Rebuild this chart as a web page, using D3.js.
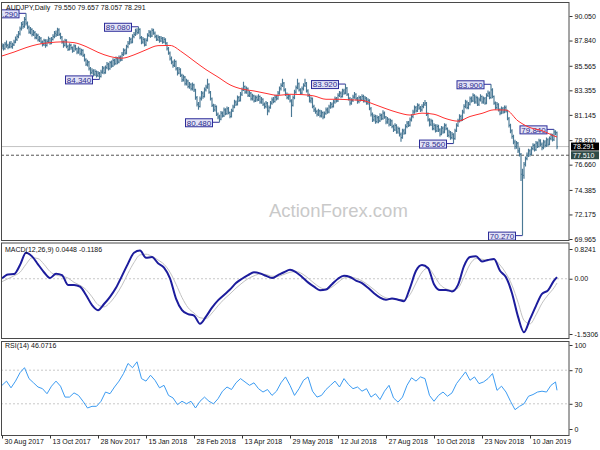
<!DOCTYPE html>
<html><head><meta charset="utf-8">
<script src="https://cdn.jsdelivr.net/npm/d3@7"></script>
<style>
body{margin:0;background:#fff}
svg{display:block}
text{font-family:"Liberation Sans",Arial,sans-serif}
</style></head>
<body><svg id="c" width="600" height="450"></svg>
<script>
// ---------------- DATA ----------------
const symbolTitle = "AUDJPY,Daily  79.550 79.657 78.057 78.291";
const macdTitle = "MACD(12,26,9) 0.0448 -0.1186";
const rsiTitle = "RSI(14) 46.0716";
const firstOpen = 87.20;

const closes = [
87.35,87.10,87.52,87.40,87.25,87.60,87.30,87.45,87.70,87.95,
88.20,88.45,88.90,89.30,89.10,89.75,89.40,89.05,88.60,88.85,
88.40,88.55,88.10,88.30,87.90,88.05,87.70,87.50,87.85,87.40,
87.75,88.00,87.60,87.95,88.20,88.50,88.35,88.80,88.40,88.15,
87.70,87.40,87.85,87.30,87.05,87.40,87.20,86.90,87.35,87.10,
86.80,87.10,86.65,86.95,86.50,86.10,85.70,85.90,85.30,84.95,
85.10,84.80,85.05,84.70,84.90,84.60,85.00,85.35,84.95,85.40,
85.70,85.30,85.85,85.55,86.05,85.75,86.20,85.90,86.30,86.10,
86.60,86.95,86.70,87.30,87.60,87.95,87.70,88.20,88.40,88.70,
88.55,88.85,88.10,87.70,87.95,87.45,87.85,88.30,88.60,88.25,
88.75,88.50,88.20,87.95,88.15,87.80,88.05,87.70,87.95,87.60,
87.10,86.70,86.20,85.90,85.60,85.95,85.30,84.90,85.25,84.70,
84.30,84.55,83.95,84.20,83.70,83.90,83.50,83.85,83.40,82.70,
82.10,81.90,82.60,83.10,82.80,83.40,83.65,83.90,83.20,82.60,
82.00,81.60,81.90,81.20,80.95,80.75,81.30,81.05,81.60,81.25,
81.70,81.35,81.00,81.50,81.85,82.30,82.10,82.70,82.45,83.00,
83.40,83.70,83.20,83.50,82.90,83.10,82.60,82.85,82.40,82.70,
82.50,82.80,82.30,82.55,82.10,81.90,82.20,81.50,81.80,82.20,
82.50,82.35,82.75,82.60,83.10,83.50,83.80,84.00,83.40,83.00,
82.70,82.85,82.40,82.00,82.70,83.20,83.60,83.95,83.40,83.10,
83.50,83.80,84.00,83.30,82.90,82.40,82.60,81.90,81.60,81.45,
81.20,81.50,81.05,81.35,80.95,81.25,81.60,81.40,81.85,82.10,
81.90,82.30,82.60,82.40,82.90,83.10,82.80,83.30,83.10,83.55,
83.00,82.60,82.20,82.45,82.75,83.00,82.60,82.35,82.70,82.50,
82.80,82.40,82.65,82.20,82.45,81.70,81.20,80.70,81.00,80.55,
80.90,80.60,81.10,80.80,81.30,80.95,80.50,80.75,80.30,80.60,
80.10,79.80,80.20,79.60,79.90,79.40,79.10,79.70,79.50,80.10,
80.40,80.20,80.70,81.00,81.40,81.80,81.50,82.00,81.75,81.60,
81.90,82.10,82.20,81.20,80.70,80.30,80.60,79.90,80.20,79.70,
80.10,79.80,79.40,79.95,79.60,80.20,79.90,79.30,79.60,79.10,
79.40,79.00,79.70,80.20,80.60,81.00,80.70,81.40,81.90,82.30,
81.80,82.10,82.60,82.40,82.90,82.30,82.70,82.10,82.50,82.80,
82.30,82.60,82.20,82.90,83.10,82.70,83.40,82.80,82.20,81.80,
82.10,81.60,81.30,81.70,81.40,81.80,81.50,80.80,80.20,79.70,
79.20,78.70,78.30,78.60,77.90,77.60,75.80,75.70,76.70,77.20,
77.50,77.90,77.60,78.10,78.40,78.00,78.60,78.30,78.80,78.50,
78.20,78.70,78.40,78.90,78.50,79.00,79.30,78.90,79.60,79.55,
78.291];

const highs = [
87.60,87.55,87.70,87.85,87.55,87.75,87.80,87.65,87.90,88.20,
88.40,88.70,89.10,89.50,89.60,89.95,90.29,89.55,89.20,89.05,
88.95,88.80,88.70,88.50,88.45,88.25,88.15,87.85,88.00,87.95,
87.95,88.20,88.10,88.15,88.40,88.70,88.75,89.00,88.95,88.55,
88.25,87.85,88.00,87.95,87.45,87.60,87.55,87.30,87.50,87.45,
87.20,87.30,87.20,87.10,87.05,86.65,86.25,86.10,86.00,85.45,
85.35,85.25,85.25,85.15,85.10,85.00,85.20,85.55,85.50,85.60,
85.90,85.85,86.00,86.05,86.25,86.20,86.40,86.35,86.50,86.50,
86.80,87.15,87.10,87.45,87.80,88.15,88.10,88.40,88.60,88.90,
88.95,89.08,88.95,88.25,88.15,88.05,88.05,88.50,88.80,88.75,
88.95,88.90,88.65,88.35,88.35,88.25,88.25,88.15,88.15,88.05,
87.70,87.25,86.85,86.40,86.05,86.15,86.05,85.45,85.45,85.35,
84.85,84.75,84.65,84.40,84.30,84.10,84.00,84.05,83.95,83.50,
82.85,82.30,82.80,83.30,83.25,83.60,83.85,84.40,84.00,83.30,
82.70,82.15,82.10,82.00,81.35,81.15,81.50,81.45,81.80,81.75,
81.90,81.85,81.45,81.70,82.05,82.50,82.45,82.90,82.85,83.20,
83.60,84.13,83.80,83.70,83.60,83.30,83.20,83.05,82.95,82.90,
82.90,83.00,82.90,82.75,82.65,82.25,82.40,82.30,82.00,82.40,
82.70,82.75,82.95,82.95,83.30,83.70,84.00,84.40,84.10,83.55,
83.15,83.05,82.95,82.55,82.90,83.40,83.80,84.40,84.05,83.55,
83.70,84.00,84.40,84.10,83.45,83.05,82.80,82.70,82.05,81.80,
81.60,81.70,81.60,81.55,81.45,81.45,81.80,81.80,82.05,82.30,
82.25,82.50,82.80,82.75,83.10,83.30,83.25,83.50,83.50,83.92,
83.65,83.10,82.75,82.65,82.95,83.20,83.10,82.75,82.90,82.85,
83.00,82.95,82.85,82.75,82.65,82.55,81.85,81.35,81.20,81.15,
81.10,81.05,81.30,81.25,81.55,81.45,81.05,80.95,80.85,80.80,
80.70,80.25,80.40,80.30,80.10,80.00,79.55,79.90,79.90,80.30,
80.60,80.60,80.90,81.20,81.60,82.00,81.95,82.20,82.15,81.95,
82.10,82.30,82.48,82.30,81.35,80.85,80.80,80.70,80.40,80.30,
80.30,80.25,79.95,80.15,80.10,80.40,80.35,80.00,79.80,79.70,
79.60,79.50,79.90,80.40,80.80,81.20,81.15,81.60,82.10,82.50,
82.45,82.30,82.80,82.80,83.10,83.00,82.90,82.80,82.70,83.00,
82.90,82.80,82.75,83.10,83.35,83.25,83.90,83.55,82.90,82.35,
82.30,82.20,81.75,81.90,81.85,82.00,82.00,81.60,80.95,80.35,
79.85,79.35,78.90,78.80,78.70,78.20,77.70,76.30,76.90,77.40,
77.75,78.10,78.05,78.30,78.60,78.55,78.80,78.75,79.00,78.95,
78.65,78.90,78.85,79.10,79.05,79.20,79.50,79.45,79.84,79.75,
79.657];

const lows = [
87.05,86.95,87.00,87.20,87.05,87.15,87.15,87.10,87.35,87.60,
87.80,88.05,88.30,88.75,88.90,89.00,89.20,88.85,88.45,88.40,
88.20,88.25,87.95,87.95,87.75,87.70,87.55,87.30,87.35,87.20,
87.30,87.60,87.45,87.50,87.85,88.05,88.15,88.25,88.25,87.95,
87.55,87.20,87.30,87.15,86.90,86.95,87.00,86.75,86.80,86.95,
86.60,86.65,86.50,86.50,86.35,85.95,85.55,85.50,85.15,84.75,
84.80,84.60,84.65,84.50,84.55,84.34,84.50,84.85,84.80,84.85,
85.25,85.15,85.20,85.40,85.45,85.60,85.65,85.70,85.80,85.95,
86.00,86.45,86.55,86.60,87.15,87.45,87.55,87.60,88.05,88.25,
88.35,88.45,87.95,87.50,87.55,87.30,87.35,87.75,88.15,88.10,
88.15,88.35,88.05,87.80,87.80,87.65,87.70,87.55,87.60,87.45,
86.95,86.55,86.05,85.70,85.40,85.45,85.15,84.70,84.80,84.55,
84.10,84.15,83.80,83.80,83.55,83.50,83.35,83.35,83.20,82.50,
81.90,81.60,81.80,82.45,82.60,82.70,83.25,83.50,83.05,82.45,
81.85,81.40,81.45,81.05,80.75,80.48,80.65,80.90,80.95,81.10,
81.15,81.20,80.85,80.90,81.40,81.75,81.95,82.00,82.30,82.35,
82.85,83.30,83.05,83.05,82.75,82.75,82.45,82.45,82.25,82.30,
82.35,82.40,82.15,82.15,81.95,81.70,81.75,81.10,81.35,81.70,
82.05,82.20,82.25,82.45,82.50,82.95,83.35,83.65,83.25,82.85,
82.55,82.50,82.25,80.95,81.90,82.55,83.05,83.45,83.25,82.95,
83.00,83.35,83.65,83.15,82.75,82.25,82.20,81.75,81.40,81.25,
81.00,81.05,80.90,80.90,80.75,80.85,81.15,81.25,81.30,81.70,
81.75,81.80,82.15,82.25,82.30,82.75,82.65,82.70,82.95,83.00,
82.85,82.45,82.00,82.05,82.30,82.60,82.45,82.15,82.20,82.35,
82.40,82.25,82.25,82.05,82.05,81.55,81.00,80.50,80.55,80.35,
80.40,80.40,80.50,80.65,80.70,80.80,80.30,80.35,80.10,80.15,
79.95,79.60,79.70,79.45,79.45,79.20,78.73,79.00,79.35,79.40,
79.95,80.05,80.10,80.55,80.85,81.25,81.35,81.40,81.60,81.40,
81.45,81.75,81.95,81.05,80.55,80.10,80.15,79.75,79.75,79.55,
79.60,79.60,79.20,79.30,79.45,79.50,79.75,79.15,79.10,78.90,
78.95,78.56,78.90,79.60,80.05,80.45,80.55,80.60,81.25,81.75,
81.65,81.65,82.00,82.25,82.30,82.15,82.15,81.95,81.95,82.35,
82.15,82.15,82.05,82.10,82.75,82.55,82.60,82.65,82.05,81.60,
81.65,81.45,81.10,81.20,81.25,81.30,81.35,80.65,80.00,79.50,
79.00,78.50,78.05,78.10,77.70,77.40,75.20,70.27,75.40,76.50,
77.05,77.35,77.40,77.50,77.95,77.85,77.90,78.15,78.20,78.30,
77.95,78.05,78.20,78.25,78.30,78.40,78.85,78.75,78.80,79.30,
78.057];

// moving average, one value every maStep bars
const maStep = 8;
const maValues = [86.45,86.80,87.20,87.50,87.65,87.72,87.65,87.30,86.78,86.40,
86.25,86.55,87.00,87.38,87.40,86.80,86.00,85.22,84.55,83.85,
83.47,83.30,83.08,82.90,83.00,82.97,82.85,82.55,82.55,82.50,
82.45,82.10,81.70,81.35,81.13,81.30,81.20,80.80,80.58,81.00,
81.28,81.60,81.58,80.60,80.00,79.72,79.25,79.15];

// MACD main and signal, one value every macdStep bars
const macdStep = 4;
const macdValues = [
0.01,0.12,0.13,0.38,0.72,0.62,0.40,0.18,0.02,0.14,
0.10,-0.17,-0.17,-0.22,-0.45,-0.73,-0.87,-0.70,-0.50,-0.25,
0.08,0.42,0.72,0.78,0.58,0.60,0.43,0.31,0.01,-0.55,
-0.87,-0.98,-1.02,-1.25,-1.05,-0.80,-0.60,-0.45,-0.30,-0.12,
0.00,0.10,0.18,0.15,0.08,0.02,0.10,0.18,0.25,0.18,
0.05,-0.10,-0.22,-0.32,-0.30,-0.15,0.00,0.08,0.05,-0.05,
-0.12,-0.25,-0.40,-0.52,-0.58,-0.55,-0.58,-0.62,-0.25,0.22,
0.38,0.30,-0.15,-0.31,-0.31,-0.35,-0.17,0.35,0.60,0.62,
0.48,0.52,0.55,0.22,0.04,-0.40,-1.05,-1.48,-1.12,-0.75,
-0.42,-0.32,-0.05,0.0448];
const signalValues = [
-0.08,0.00,0.08,0.18,0.40,0.58,0.56,0.40,0.20,0.10,
0.07,0.02,-0.10,-0.18,-0.30,-0.50,-0.72,-0.78,-0.66,-0.45,
-0.18,0.15,0.45,0.66,0.68,0.62,0.52,0.40,0.18,-0.15,
-0.52,-0.80,-0.95,-1.08,-1.10,-0.95,-0.75,-0.57,-0.42,-0.26,
-0.12,0.00,0.08,0.13,0.12,0.07,0.07,0.12,0.18,0.20,
0.14,0.02,-0.12,-0.24,-0.29,-0.23,-0.10,0.02,0.05,0.01,
-0.06,-0.17,-0.30,-0.44,-0.53,-0.56,-0.57,-0.58,-0.44,-0.12,
0.18,0.30,0.10,-0.16,-0.28,-0.32,-0.26,0.05,0.40,0.56,
0.54,0.52,0.53,0.38,0.15,-0.18,-0.65,-1.15,-1.25,-1.00,
-0.68,-0.45,-0.25,-0.1186];

// RSI(14), one value every rsiStep bars
const rsiStep = 3;
const rsiValues = [
52,57,49,57,67,73,60,55,50,48,
42,51,57,51,38,38,43,40,33,25,
27,27,33,44,42,50,57,66,78,73,
80,60,57,64,58,49,52,40,37,29,
33,30,33,25,33,38,33,30,36,45,
50,47,55,60,56,52,55,48,44,47,
40,45,55,62,52,40,48,58,62,45,
38,40,47,52,57,50,60,53,48,50,
45,48,38,42,35,45,52,37,32,38,
52,61,57,62,60,40,33,40,44,39,
43,54,61,68,58,62,54,56,60,66,
46,51,44,33,23,27,30,39,41,44,
45,44,52,56,46.07];

const priceTicks = [90.050,87.840,85.565,83.355,81.145,78.870,76.660,74.385,72.175,69.965];
const macdTicks = [0.8241,0.00,-1.5306];
const macdTickLabels = ["0.8241","0.00","-1.5306"];
const rsiTicks = [100,70,30,0];
const dateStep = 32;
const dateLabels = ["30 Aug 2017","13 Oct 2017","28 Nov 2017","15 Jan 2018","28 Feb 2018","13 Apr 2018",
  "29 May 2018","12 Jul 2018","27 Aug 2018","10 Oct 2018","23 Nov 2018","10 Jan 2019"];

const lastPrice = 78.291;
const levelPrice = 77.510;
const swingIdx   = [16, 91, 65, 145, 229, 301, 326, 347, 368];
const swingPrice = [90.29, 89.08, 84.34, 80.48, 83.92, 78.56, 83.90, 70.27, 79.84];

// ---------------- DRAWING ----------------
const svg = d3.select("#c");
const n = closes.length;
const L = 1, R = 569;
const main = {top: 2, bottom: 240};
const mp = {top: 242.5, bottom: 338};
const rp = {top: 341, bottom: 435};

const x = d3.scaleLinear().domain([0, n - 1]).range([2, 2 + 1.5 * (n - 1)]);
const yP = d3.scaleLinear().domain([69.965, 90.05]).range([239, 16]);
const yM = d3.scaleLinear().domain([-1.5306, 0.8241]).range([334, 249]);
const yR = d3.scaleLinear().domain([0, 100]).range([429, 345]);

const defs = svg.append("defs");
[["clipMain", main], ["clipMacd", mp], ["clipRsi", rp]].forEach(([id, p]) => {
  defs.append("clipPath").attr("id", id).append("rect")
    .attr("x", L).attr("y", p.top).attr("width", R - L).attr("height", p.bottom - p.top);
});

// watermark
svg.append("text").attr("x", 269).attr("y", 217).text("ActionForex.com")
  .attr("font-size", 18.5).attr("fill", "#c9c9c9");

const gMain = svg.append("g").attr("clip-path", "url(#clipMain)");

// price lines
gMain.append("line").attr("x1", L).attr("x2", R).attr("y1", yP(lastPrice)).attr("y2", yP(lastPrice))
  .attr("stroke", "#c4c4c4").attr("stroke-width", 1);
gMain.append("line").attr("x1", L).attr("x2", R).attr("y1", yP(levelPrice)).attr("y2", yP(levelPrice))
  .attr("stroke", "#555").attr("stroke-width", 1).attr("stroke-dasharray", "3,2");

// swing labels
const fmt3 = d3.format(".3f");
const boxW = 27, boxH = 8, gap = 7;
swingIdx.forEach((idx, k) => {
  const bx = x(idx), by = yP(swingPrice[k]);
  const right = bx - gap;
  gMain.append("line").attr("x1", right).attr("x2", bx).attr("y1", by).attr("y2", by)
    .attr("stroke", "#2d2d99").attr("stroke-width", 1);
  gMain.append("rect").attr("x", right - boxW).attr("y", by - boxH / 2 + 0.5)
    .attr("width", boxW).attr("height", boxH)
    .attr("fill", "#e2e2f6").attr("stroke", "#2d2d99").attr("stroke-width", 1);
  gMain.append("text").attr("x", right - boxW / 2).attr("y", by + 0.5).attr("dy", "0.35em")
    .attr("text-anchor", "middle").attr("font-size", 8).attr("fill", "#2d2d8f")
    .text(fmt3(swingPrice[k]));
});

// OHLC bars
let d = "";
for (let i = 0; i < n; i++) {
  const xi = x(i);
  const o = i === 0 ? firstOpen : closes[i - 1];
  d += `M${xi},${yP(highs[i])}V${yP(lows[i])}`;
  d += `M${xi - 1},${yP(o)}H${xi}`;
  d += `M${xi},${yP(closes[i])}H${xi + 1}`;
}
gMain.append("path").attr("d", d).attr("fill", "none")
  .attr("stroke", "#4a7995").attr("stroke-width", 1.15);

// moving average
const maLine = d3.line().x((v, k) => x(Math.min(k * maStep, n - 1))).y(v => yP(v)).curve(d3.curveMonotoneX);
gMain.append("path").attr("d", maLine(maValues)).attr("fill", "none")
  .attr("stroke", "#ff3030").attr("stroke-width", 1);

// MACD panel
const gM = svg.append("g").attr("clip-path", "url(#clipMacd)");
gM.append("line").attr("x1", L).attr("x2", R).attr("y1", yM(0)).attr("y2", yM(0))
  .attr("stroke", "#c8c8c8").attr("stroke-dasharray", "2,2");
const mLine = d3.line().x((v, k) => x(Math.min(k * macdStep, n - 1))).y(v => yM(v)).curve(d3.curveMonotoneX);
gM.append("path").attr("d", mLine(signalValues)).attr("fill", "none")
  .attr("stroke", "#c2c2c2").attr("stroke-width", 1);
gM.append("path").attr("d", mLine(macdValues)).attr("fill", "none")
  .attr("stroke", "#1c1c9c").attr("stroke-width", 2);

// RSI panel
const gR = svg.append("g").attr("clip-path", "url(#clipRsi)");
[70, 30].forEach(v => gR.append("line").attr("x1", L).attr("x2", R).attr("y1", yR(v)).attr("y2", yR(v))
  .attr("stroke", "#c8c8c8").attr("stroke-dasharray", "2,2"));
const rLine = d3.line().x((v, k) => x(Math.min(k * rsiStep, n - 1))).y(v => yR(v));
gR.append("path").attr("d", rLine(rsiValues)).attr("fill", "none")
  .attr("stroke", "#3d9cf2").attr("stroke-width", 1);

// panel frames
[main, mp, rp].forEach(p => {
  svg.append("rect").attr("x", L + 0.5).attr("y", p.top + 0.5).attr("width", R - L - 0.5)
    .attr("height", p.bottom - p.top).attr("fill", "none").attr("stroke", "#4a4a4a").attr("stroke-width", 1);
});

// right axes
function rightAxis(scale, ticks, labels) {
  const g = svg.append("g").attr("transform", `translate(${R + 0.5},0)`)
    .call(d3.axisRight(scale).tickValues(ticks).tickSize(3).tickPadding(2)
      .tickFormat((v, k) => labels[k]));
  g.select(".domain").remove();
  g.selectAll("line").attr("stroke", "#333");
  g.selectAll("text").attr("font-size", 7).attr("fill", "#111").attr("font-family", '"Liberation Sans",Arial,sans-serif');
  return g;
}
rightAxis(yP, priceTicks, priceTicks.map(fmt3));
rightAxis(yM, macdTicks, macdTickLabels);
rightAxis(yR, rsiTicks, rsiTicks.map(String));

// current price tags
[[lastPrice, "#000000"], [levelPrice, "#2e4a47"]].forEach(([p, col]) => {
  const yy = yP(p);
  svg.append("rect").attr("x", 571).attr("y", yy - 4).attr("width", 28).attr("height", 8).attr("fill", col);
  svg.append("text").attr("x", 573).attr("y", yy).attr("dy", "0.35em").attr("font-size", 7)
    .attr("fill", "#fff").text(fmt3(p));
});

// bottom date axis
const dateIdx = dateLabels.map((s, k) => k * dateStep);
const gx = svg.append("g").attr("transform", `translate(0,${rp.bottom + 0.5})`)
  .call(d3.axisBottom(x).tickValues(dateIdx).tickSize(3).tickFormat((v, k) => dateLabels[k]));
gx.select(".domain").remove();
gx.selectAll("line").attr("stroke", "#333");
gx.selectAll("text").attr("text-anchor", "start").attr("x", 2).attr("y", 4).attr("dy", "0.71em")
  .attr("font-size", 7).attr("fill", "#111").attr("font-family", '"Liberation Sans",Arial,sans-serif');

// titles
svg.append("text").attr("x", 6).attr("y", 7.5).attr("dy", "0.35em").attr("font-size", 7)
  .attr("fill", "#111").attr("xml:space", "preserve").style("white-space", "pre").text(symbolTitle);
svg.append("text").attr("x", 5).attr("y", 250).attr("dy", "0.35em").attr("font-size", 7)
  .attr("fill", "#111").text(macdTitle);
svg.append("text").attr("x", 5).attr("y", 346).attr("dy", "0.35em").attr("font-size", 7)
  .attr("fill", "#111").text(rsiTitle);
</script>
</body></html>
